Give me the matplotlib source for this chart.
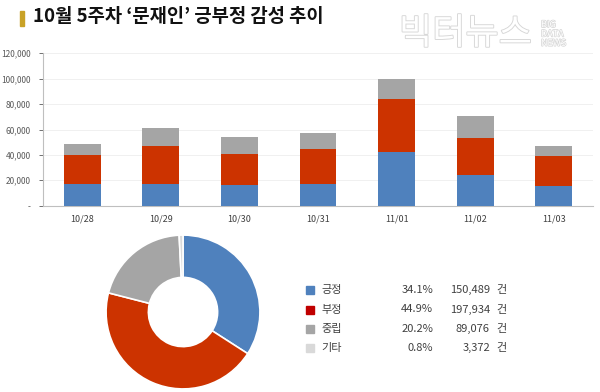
import numpy as np
import matplotlib
matplotlib.use('Agg')
import matplotlib.pyplot as plt
import matplotlib.patheffects as pe
from matplotlib.ticker import FuncFormatter

plt.rcParams['font.family'] = ['Noto Sans CJK KR', 'DejaVu Sans']

# daily sentiment counts
days = ['10/28', '10/29', '10/30', '10/31', '11/01', '11/02', '11/03']
positive = [17100, 17300, 16300, 17100, 42500, 24200, 15700]
negative = [22800, 29900, 24400, 27800, 41300, 29300, 23400]
neutral = [8900, 14000, 13400, 12300, 16200, 16900, 8100]

# weekly totals
labels = ['긍정', '부정', '중립', '기타']
shares = [34.1, 44.9, 20.2, 0.8]
counts = [150489, 197934, 89076, 3372]

c_blue = '#4F81BD'
c_red = '#CC3300'
c_gray = '#A5A5A5'
c_light = '#D9D9D9'
legend_colors = ['#4F81BD', '#C00000', '#A5A5A5', '#D9D9D9']

fig = plt.figure(figsize=(6, 3.92), dpi=100)

# title
fig.patches.append(plt.Rectangle((20 / 600, 1 - 26 / 392), 4 / 600, 15 / 392,
                                 transform=fig.transFigure, color='#C9A227'))
fig.text(33 / 600, 1 - 17 / 392, '10월 5주차 ‘문재인’ 긍부정 감성 추이',
         fontsize=13.5, fontweight='bold', va='center', ha='left', color='#111111')

# watermark
fig.text(399 / 600, 1 - 34 / 392, '빅터뉴스', fontsize=26, color='white',
         va='center', ha='left', fontweight='light',
         path_effects=[pe.withStroke(linewidth=1.3, foreground='#d6d6d6')])
fig.text(541 / 600, 1 - 34 / 392, 'BIG\nDATA\nNEWS', fontsize=6.5, color='white',
         va='center', ha='left', linespacing=1.05,
         path_effects=[pe.withStroke(linewidth=1.0, foreground='#d6d6d6')])

# stacked bars
ax = fig.add_axes([43 / 600, 186.3 / 392, 550 / 600, 152.4 / 392])
x = np.arange(len(days))
w = 0.47
pos = np.array(positive)
neg = np.array(negative)
neu = np.array(neutral)
ax.bar(x, pos, w, color=c_blue, zorder=3)
ax.bar(x, neg, w, bottom=pos, color=c_red, zorder=3)
ax.bar(x, neu, w, bottom=pos + neg, color=c_gray, zorder=3)
ax.set_xlim(-0.5, len(days) - 0.5)
ax.set_ylim(0, 120000)
ax.set_yticks(np.arange(0, 120001, 20000))
ax.yaxis.set_major_formatter(FuncFormatter(lambda v, p: '-' if v == 0 else f'{int(v):,}'))
ax.set_xticks(x)
ax.set_xticklabels(days)
ax.tick_params(axis='y', labelsize=6, colors='#595959', length=3, width=0.6, pad=6)
ax.tick_params(axis='x', labelsize=6.5, colors='#404040', length=0, pad=6)
ax.grid(axis='y', color='#EEEEEE', linewidth=0.6, zorder=0)
for s in ['top', 'right']:
    ax.spines[s].set_visible(False)
for s in ['left', 'bottom']:
    ax.spines[s].set_color('#BFBFBF')
    ax.spines[s].set_linewidth(0.8)

# donut
pax = fig.add_axes([103 / 600, 0 / 392, 160 / 600, 160 / 392])
pax.pie(shares, colors=[c_blue, c_red, c_gray, c_light], startangle=90,
        counterclock=False, radius=1.0,
        wedgeprops=dict(width=0.55, edgecolor='white', linewidth=1.2))
pax.set_xlim(-1.04, 1.04)
pax.set_ylim(-1.04, 1.04)
pax.set_aspect('equal')
pax.axis('off')

# legend table
rows_y = [290, 309.5, 329, 348]
for lab, sh, cnt, col, yy in zip(labels, shares, counts, legend_colors, rows_y):
    yf = 1 - yy / 392
    fig.patches.append(plt.Rectangle((306 / 600, yf - 4 / 392), 8 / 600, 8 / 392,
                                     transform=fig.transFigure, color=col))
    fig.text(321 / 600, yf, lab, fontsize=8, va='center', ha='left', color='#404040')
    fig.text(433 / 600, yf, f'{sh:.1f}%', fontsize=8, va='center', ha='right', color='#404040')
    fig.text(490 / 600, yf, f'{cnt:,}', fontsize=8, va='center', ha='right', color='#404040')
    fig.text(496 / 600, yf, '건', fontsize=8, va='center', ha='left', color='#404040')

fig.savefig('out.png', dpi=100)
